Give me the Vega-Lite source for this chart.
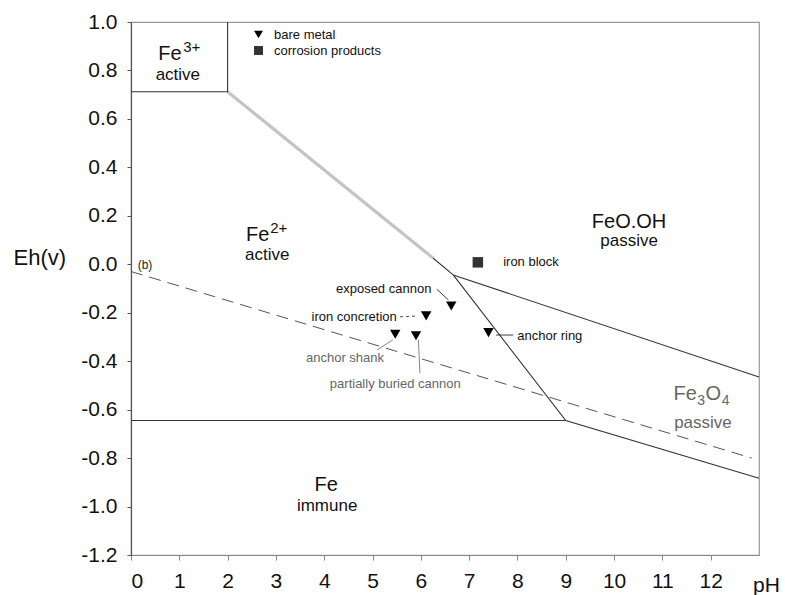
{
  "$schema": "https://vega.github.io/schema/vega-lite/v6.json",
  "width": 628,
  "height": 533,
  "autosize": {"type": "none"},
  "padding": {"left": 131, "top": 22, "right": 26, "bottom": 40},
  "config": {
    "font": "Liberation Sans",
    "view": {"stroke": "#9a9a9a", "strokeWidth": 1.2},
    "axis": {"grid": false, "labelFont": "Liberation Sans", "titleFont": "Liberation Sans"}
  },
  "datasets": {
    "lines": [
      {"line": "Fe3+/Fe2+", "i": 1, "pH": 0, "Eh": 0.712},
      {"line": "Fe3+/Fe2+", "i": 2, "pH": 2, "Eh": 0.712},
      {"line": "Fe3+/Fe2+", "i": 3, "pH": 2, "Eh": 1.0},
      {"line": "Fe2+/FeOOH", "i": 1, "pH": 2, "Eh": 0.712},
      {"line": "Fe2+/FeOOH", "i": 2, "pH": 6.25, "Eh": 0.026},
      {"line": "Fe2+/FeOOH end", "i": 1, "pH": 6.25, "Eh": 0.026},
      {"line": "Fe2+/FeOOH end", "i": 2, "pH": 6.67, "Eh": -0.044},
      {"line": "Fe2+/Fe3O4", "i": 1, "pH": 6.67, "Eh": -0.044},
      {"line": "Fe2+/Fe3O4", "i": 2, "pH": 9, "Eh": -0.645},
      {"line": "Fe2+/Fe3O4", "i": 3, "pH": 13, "Eh": -0.883},
      {"line": "Fe/Fe2+", "i": 1, "pH": 0, "Eh": -0.645},
      {"line": "Fe/Fe2+", "i": 2, "pH": 9, "Eh": -0.645},
      {"line": "FeOOH/Fe3O4", "i": 1, "pH": 6.67, "Eh": -0.044},
      {"line": "FeOOH/Fe3O4", "i": 2, "pH": 13, "Eh": -0.465},
      {"line": "water (b)", "i": 1, "pH": 0, "Eh": -0.03},
      {"line": "water (b)", "i": 2, "pH": 12.85, "Eh": -0.8}
    ],
    "samples": [
      {"sample": "exposed cannon", "type": "bare metal", "pH": 6.63, "Eh": -0.172},
      {"sample": "iron concretion", "type": "bare metal", "pH": 6.11, "Eh": -0.213},
      {"sample": "anchor shank", "type": "bare metal", "pH": 5.47, "Eh": -0.289},
      {"sample": "partially buried cannon", "type": "bare metal", "pH": 5.9, "Eh": -0.295},
      {"sample": "anchor ring", "type": "bare metal", "pH": 7.4, "Eh": -0.282},
      {"sample": "iron block", "type": "corrosion products", "pH": 7.18, "Eh": 0.008}
    ],
    "annotations": [
      {"text": "exposed cannon", "pH": 5.23, "Eh": -0.102},
      {"text": "iron concretion", "pH": 4.62, "Eh": -0.216},
      {"text": "anchor shank", "pH": 4.43, "Eh": -0.387},
      {"text": "partially buried cannon", "pH": 5.47, "Eh": -0.494},
      {"text": "anchor ring", "pH": 8.67, "Eh": -0.295},
      {"text": "iron block", "pH": 8.28, "Eh": 0.009}
    ],
    "leaders": [
      {"sample": "exposed cannon", "pH": 6.33, "Eh": -0.103, "pH2": 6.57, "Eh2": -0.147},
      {"sample": "iron concretion", "pH": 5.57, "Eh": -0.217, "pH2": 5.94, "Eh2": -0.213},
      {"sample": "anchor shank", "pH": 5.09, "Eh": -0.354, "pH2": 5.42, "Eh2": -0.312},
      {"sample": "partially buried cannon", "pH": 5.95, "Eh": -0.312, "pH2": 5.98, "Eh2": -0.449},
      {"sample": "anchor ring", "pH": 7.56, "Eh": -0.292, "pH2": 7.91, "Eh2": -0.292}
    ],
    "speciesParts": [
      {"phase": "Fe3+", "part": "base", "text": "Fe", "pH": 0.565, "Eh": 0.868},
      {"phase": "Fe3+", "part": "sup", "text": "3+", "pH": 1.08, "Eh": 0.868},
      {"phase": "Fe2+", "part": "base", "text": "Fe", "pH": 2.38, "Eh": 0.121},
      {"phase": "Fe2+", "part": "sup", "text": "2+", "pH": 2.88, "Eh": 0.121},
      {"phase": "FeOOH", "part": "base", "text": "FeO.OH", "pH": 9.54, "Eh": 0.175},
      {"phase": "Fe3O4", "part": "base", "text": "Fe", "pH": 11.23, "Eh": -0.534},
      {"phase": "Fe3O4", "part": "sub", "text": "3", "pH": 11.72, "Eh": -0.534},
      {"phase": "Fe3O4", "part": "base", "text": "O", "pH": 11.89, "Eh": -0.534},
      {"phase": "Fe3O4", "part": "sub", "text": "4", "pH": 12.23, "Eh": -0.534},
      {"phase": "Fe", "part": "base", "text": "Fe", "pH": 3.8, "Eh": -0.911}
    ],
    "states": [
      {"phase": "Fe3+", "state": "active", "pH": 0.97, "Eh": 0.783},
      {"phase": "Fe2+", "state": "active", "pH": 2.82, "Eh": 0.038},
      {"phase": "FeOOH", "state": "passive", "pH": 10.31, "Eh": 0.096},
      {"phase": "Fe3O4", "state": "passive", "pH": 11.84, "Eh": -0.655},
      {"phase": "Fe", "state": "immune", "pH": 4.06, "Eh": -0.998}
    ],
    "lineLabels": [
      {"text": "(b)", "pH": 0.29, "Eh": -0.003}
    ]
  },
  "encoding": {
    "x": {
      "field": "pH", "type": "quantitative",
      "scale": {"domain": [0, 13], "nice": false, "zero": false},
      "axis": {
        "values": [0, 1, 2, 3, 4, 5, 6, 7, 8, 9, 10, 11, 12],
        "title": "pH", "titleX": 635, "titleY": 30, "titleAlign": "center", "titleBaseline": "middle",
        "titleFontSize": 21, "titleFontWeight": "normal", "titleColor": "#111",
        "labelFontSize": 21, "labelColor": "#111", "labelPadding": 10,
        "tickSize": 5, "tickColor": "#888", "domainColor": "#888", "domainWidth": 1.2
      }
    },
    "y": {
      "field": "Eh", "type": "quantitative",
      "scale": {"domain": [-1.2, 1.0], "nice": false, "zero": false},
      "axis": {
        "values": [-1.2, -1.0, -0.8, -0.6, -0.4, -0.2, 0, 0.2, 0.4, 0.6, 0.8, 1.0],
        "format": ".1f",
        "labelExpr": "replace(datum.label, '−', '-')",
        "title": "Eh(v)", "titleAngle": 0, "titleX": -118, "titleY": 235, "titleAlign": "left", "titleBaseline": "middle",
        "titleFontSize": 22, "titleFontWeight": "normal", "titleColor": "#111",
        "labelFontSize": 21, "labelColor": "#111", "labelPadding": 10,
        "tickSize": 4, "tickColor": "#555", "domainColor": "#555", "domainWidth": 1.2
      }
    }
  },
  "layer": [
    {
      "data": {"name": "lines"},
      "transform": [{"filter": "datum.line === 'Fe2+/FeOOH'"}],
      "mark": {"type": "line", "color": "#c4c4c4", "strokeWidth": 3.2},
      "encoding": {"order": {"field": "i"}, "detail": {"field": "line"}}
    },
    {
      "data": {"name": "lines"},
      "transform": [{"filter": "datum.line !== 'Fe2+/FeOOH' && datum.line !== 'water (b)'"}],
      "mark": {"type": "line", "color": "#333", "strokeWidth": 1.1},
      "encoding": {"order": {"field": "i"}, "detail": {"field": "line"}}
    },
    {
      "data": {"name": "lines"},
      "transform": [{"filter": "datum.line === 'water (b)'"}],
      "mark": {"type": "line", "color": "#555", "strokeWidth": 1, "strokeDash": [12, 7]},
      "encoding": {"order": {"field": "i"}}
    },
    {
      "data": {"name": "leaders"},
      "transform": [{"filter": "datum.sample !== 'iron concretion'"}],
      "mark": {"type": "rule", "strokeWidth": 0.9},
      "encoding": {
        "x2": {"field": "pH2"}, "y2": {"field": "Eh2"},
        "color": {"condition": {"test": "datum.sample === 'anchor shank' || datum.sample === 'partially buried cannon'", "value": "#777"}, "value": "#222"}
      }
    },
    {
      "data": {"name": "leaders"},
      "transform": [{"filter": "datum.sample === 'iron concretion'"}],
      "mark": {"type": "rule", "strokeWidth": 0.9, "color": "#333", "strokeDash": [3, 3]},
      "encoding": {"x2": {"field": "pH2"}, "y2": {"field": "Eh2"}}
    },
    {
      "data": {"name": "samples"},
      "mark": {"type": "point", "filled": true, "opacity": 1, "size": 110},
      "encoding": {
        "shape": {
          "field": "type", "type": "nominal",
          "scale": {"domain": ["bare metal", "corrosion products"], "range": ["triangle-down", "square"]},
          "legend": {
            "title": null, "orient": "none", "legendX": 121, "legendY": 6,
            "labelFontSize": 13, "labelColor": "#111", "symbolSize": 80, "labelOffset": 9,
            "rowPadding": 2, "padding": 0, "symbolStrokeWidth": 0
          }
        },
        "color": {
          "field": "type", "type": "nominal",
          "scale": {"domain": ["bare metal", "corrosion products"], "range": ["#000000", "#333333"]},
          "legend": {"title": null}
        }
      }
    },
    {
      "data": {"name": "annotations"},
      "mark": {"type": "text", "fontSize": 13, "align": "center", "baseline": "middle"},
      "encoding": {
        "text": {"field": "text"},
        "color": {"condition": {"test": "datum.text === 'anchor shank' || datum.text === 'partially buried cannon'", "value": "#666"}, "value": "#111"}
      }
    },
    {
      "data": {"name": "lineLabels"},
      "mark": {"type": "text", "fontSize": 12, "align": "center", "baseline": "middle", "color": "#222"},
      "encoding": {"text": {"field": "text"}}
    },
    {
      "data": {"name": "speciesParts"},
      "transform": [{"filter": "datum.part === 'base'"}],
      "mark": {"type": "text", "fontSize": 20, "align": "left", "baseline": "middle"},
      "encoding": {
        "text": {"field": "text"},
        "color": {"condition": {"test": "datum.phase === 'Fe3O4'", "value": "#666"}, "value": "#111"}
      }
    },
    {
      "data": {"name": "speciesParts"},
      "transform": [{"filter": "datum.part === 'sup'"}],
      "mark": {"type": "text", "fontSize": 15, "align": "left", "baseline": "middle", "dy": -7},
      "encoding": {
        "text": {"field": "text"},
        "color": {"value": "#111"}
      }
    },
    {
      "data": {"name": "speciesParts"},
      "transform": [{"filter": "datum.part === 'sub'"}],
      "mark": {"type": "text", "fontSize": 14, "align": "left", "baseline": "middle", "dy": 7},
      "encoding": {
        "text": {"field": "text"},
        "color": {"value": "#666"}
      }
    },
    {
      "data": {"name": "states"},
      "mark": {"type": "text", "fontSize": 17, "align": "center", "baseline": "middle"},
      "encoding": {
        "text": {"field": "state"},
        "color": {"condition": {"test": "datum.phase === 'Fe3O4'", "value": "#666"}, "value": "#111"}
      }
    }
  ]
}
